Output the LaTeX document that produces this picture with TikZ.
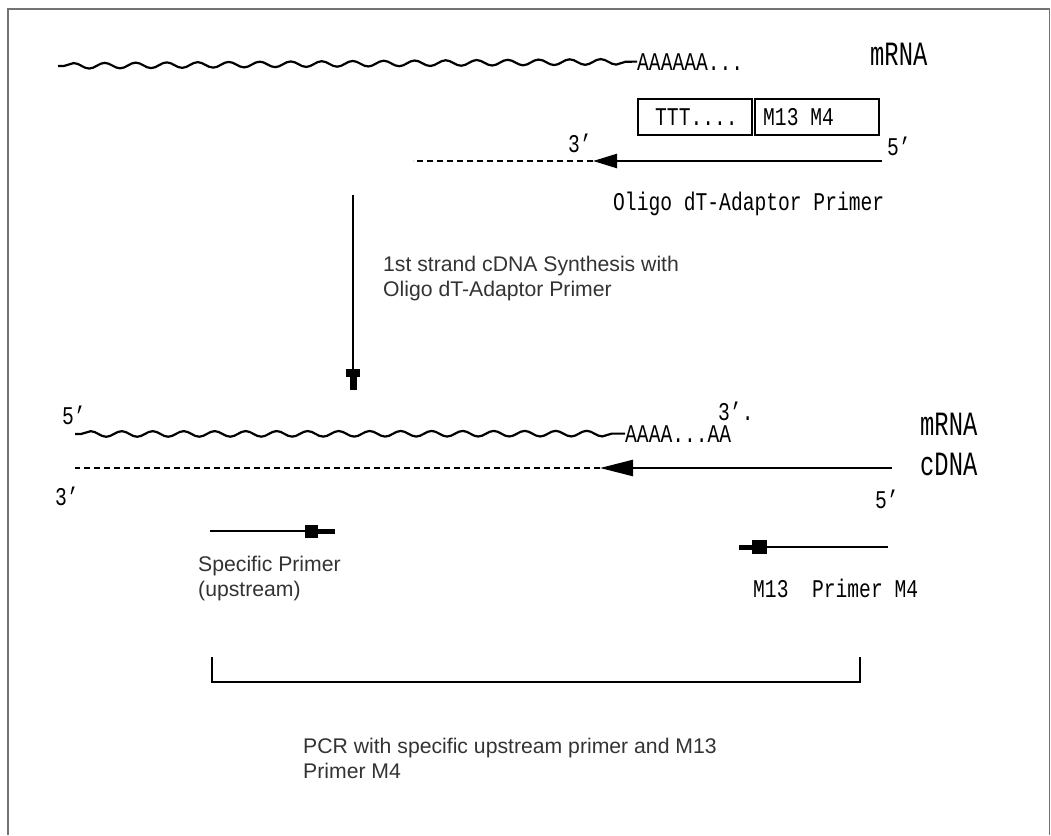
\documentclass[tikz,border=0pt]{standalone}
\usepackage{fontspec}
\setmainfont{Liberation Sans}
\newfontfamily\monof[FakeStretch=0.77]{Liberation Mono}
\newfontfamily\monobig[FakeStretch=0.7]{Liberation Mono}
\usetikzlibrary{decorations.pathmorphing,arrows.meta}
\begin{document}
\begin{tikzpicture}[x=1pt,y=-1pt,
  strand/.style={line width=2.4pt},
  dstrand/.style={line width=2.4pt, dash pattern=on 6pt off 4pt},
  wave/.style={line width=2.2pt, decorate, decoration={snake, amplitude=2.8pt, segment length=31pt, pre length=6pt, post length=2pt}},
  mono/.style={font=\monof\fontsize{25.5}{25.5}\selectfont, inner sep=0pt, anchor=base west},
  big/.style={font=\monobig\fontsize{34}{34}\selectfont, inner sep=0pt, anchor=base west},
  sans/.style={font=\fontsize{21.2}{25}\selectfont, text=black!80, inner sep=0pt, align=left, anchor=north west},
  boxst/.style={draw, line width=2pt, inner sep=0pt, anchor=north west, minimum height=36pt},
  filled/.style={-{Triangle[length=24pt,width=14pt]}},
  blockR/.style={-{Rectangle[length=13pt,width=13pt,sep=0pt] Rectangle[length=17pt,width=5pt]}},
  blockL/.style={-{Rectangle[length=15pt,width=14pt,sep=0pt] Rectangle[length=13pt,width=5pt]}},
  blockD/.style={-{Rectangle[length=8pt,width=14pt,sep=0pt] Rectangle[length=13pt,width=7pt]}}
]
\useasboundingbox (0,0) rectangle (1051,835);
% frame
\draw[black!55, line width=1.2pt] (8,835) -- (8,9) -- (1049.5,9) -- (1049.5,835);

% ---------- top part ----------
\coordinate (w1a) at (58,66);
\node[mono] (polyA1) at (637,70) {AAAAAA...};
\draw[wave] (w1a) -- (polyA1.west);
\node[big] (mrna1) at (870,65) {mRNA};

\node[boxst, minimum width=114pt] (tbox) at (637,98) {};
\node[boxst, minimum width=124.5pt] (mbox) at (753.5,98) {};
\node[mono] (ttt) at (655,125) {TTT....};
\node[mono] (m13m4) at (763,125) {M13 M4};

\node[mono] (t3) at (568,152) {3’};
\node[mono] (t5) at (887,155) {5’};
\coordinate (pA) at (882,161);
\coordinate (pB) at (593,161);
\coordinate (pC) at (413,161);
\draw[strand, filled] (pA) -- (pB);
\draw[dstrand] (pB) -- (pC);
\node[mono] (oligo) at (613,210) {Oligo dT-Adaptor Primer};

\coordinate (vs) at (353,195);
\coordinate (ve) at (353,390);
\draw[line width=2pt, blockD] (vs) -- (ve);
\node[sans] (step1) at (383,256) {1st strand cDNA Synthesis with\\Oligo dT-Adaptor Primer};

% ---------- bottom part ----------
\node[mono] (b5) at (62,424) {5’};
\node[mono] (b3) at (718,420) {3’.};
\coordinate (w2a) at (75,434);
\node[mono] (polyA2) at (625,442) {AAAA...AA};
\draw[wave] (w2a) -- (polyA2.west);
\node[big] (mrna2) at (920,435) {mRNA};
\node[big] (cdna) at (920,475) {cDNA};

\coordinate (cA) at (892,468);
\coordinate (cB) at (600,468);
\coordinate (cC) at (75,468);
\draw[strand, -{Triangle[length=33pt,width=16pt]}] (cA) -- (cB);
\draw[dstrand] (cB) -- (cC);
\node[mono] (c3) at (55,505) {3’};
\node[mono] (c5) at (875,508) {5’};

\coordinate (sA) at (210,531);
\coordinate (sB) at (335,531);
\draw[strand, blockR] (sA) -- (sB);
\node[sans] (spec) at (198,556) {Specific Primer\\(upstream)};

\coordinate (mA) at (888,547);
\coordinate (mB) at (739,547);
\draw[strand, blockL] (mA) -- (mB);
\node[mono] (m13p) at (753,597) {M13\ \ Primer M4};

\coordinate (k1) at (212,657);
\coordinate (k2) at (212,682);
\coordinate (k3) at (860,682);
\coordinate (k4) at (860,657);
\draw[line width=2.4pt] (k1) -- (k2) -- (k3) -- (k4);
\node[sans] (pcr) at (303,738) {PCR with specific upstream primer and M13\\Primer M4};
\end{tikzpicture}
\end{document}
